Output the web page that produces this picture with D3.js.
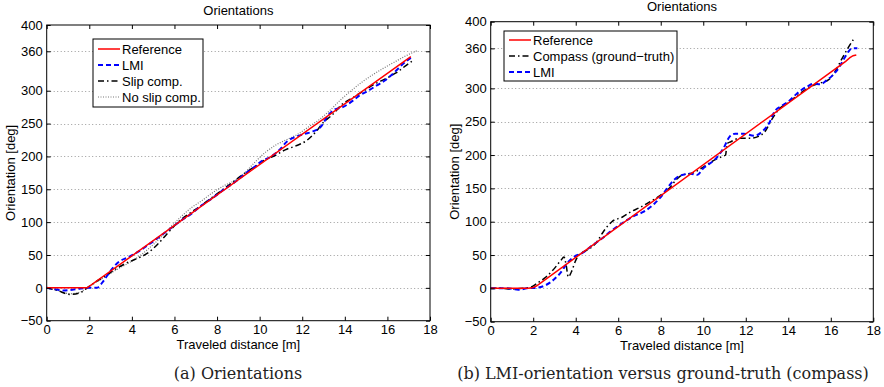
<!DOCTYPE html>
<html><head><meta charset="utf-8">
<script src="https://cdn.jsdelivr.net/npm/d3@7"></script>
<style>body{margin:0;background:#fff}svg{display:block}</style>
</head><body>
<svg id="c" width="884" height="387"></svg>
<script>
// ---------- data ----------
const xTicks = [0,2,4,6,8,10,12,14,16,18];
const yTicks = [-50,0,50,100,150,200,250,300,360,400];

// Panel (a)
const aRefX = [0,1.9,17.1];
const aRefY = [0,0,352];
const aLmiX = [0,0.4,0.8,1.2,1.6,2.0,2.35,2.7,3.0,3.4,3.8,4.3,4.8,5.3,5.8,6.3,6.8,7.3,7.8,8.3,8.8,9.3,9.8,10.1,10.5,10.9,11.3,11.7,12.1,12.5,12.9,13.2,13.5,13.9,14.3,14.7,15.1,15.5,15.9,16.3,16.7,17.1];
const aLmiY = [0,-2,-4,-3,-1,0,0,12,26,40,46,55,66,78,90,102,113,126,137,149,160,173,185,193,199,209,223,230,234,238,246,262,271,275,283,293,300,308,316,327,340,350];
const aSlipX = [0,0.5,1.1,1.6,1.9,2.3,2.8,3.3,3.7,4.2,4.7,5.2,5.7,6.2,6.7,7.2,7.7,8.2,8.7,9.2,9.7,10.2,10.7,11.2,11.7,12.2,12.6,13.0,13.4,13.9,14.4,14.9,15.4,15.9,16.4,16.9,17.2];
const aSlipY = [0,-4,-10,-7,0,9,19,30,37,44,52,66,84,101,113,124,136,148,160,172,183,194,201,210,216,224,236,252,263,280,290,300,310,318,327,339,346];
const aNoSlipX = [0,0.5,1.1,1.6,1.9,2.3,2.8,3.3,3.8,4.3,4.8,5.3,5.8,6.3,6.8,7.3,7.8,8.3,8.8,9.3,9.8,10.3,10.8,11.3,11.8,12.3,12.8,13.3,13.8,14.3,14.8,15.3,15.8,16.3,16.8,17.4];
const aNoSlipY = [0,-4,-9,-6,0,8,18,28,37,47,60,75,92,108,122,133,145,155,163,175,192,207,218,226,234,245,256,270,286,300,313,324,334,343,352,361];

// Panel (b)
const bRefX = [0,1.75,1.95,2.15,16.7,16.9,17.05,17.2];
const bRefY = [0,0,0.8,3.5,340.6,346,349,350];
const bCompassX = [0,0.5,1.0,1.5,1.9,2.2,2.6,3.0,3.3,3.45,3.55,3.65,3.8,4.0,4.2,4.4,5.0,5.3,5.7,6.2,6.6,7.0,7.5,8.0,8.4,8.7,9.0,9.5,10.0,10.5,10.9,11.05,11.12,11.3,11.7,12.2,12.6,12.9,13.2,13.6,14.0,14.5,15.0,15.5,15.9,16.2,16.5,16.8,17.1];
const bCompassY = [0,0,-1,0,2,8,17,30,42,47,35,17,25,42,52,55,70,85,100,107,115,121,130,140,150,162,170,173,182,192,198,200,217,220,225,225,228,235,252,270,279,291,302,308,313,325,343,360,375];
const bLmiX = [0,0.8,1.3,1.7,2.2,2.6,3.0,3.3,3.6,3.9,4.3,4.8,5.2,5.7,6.2,6.7,7.2,7.7,8.0,8.3,8.6,9.0,9.4,9.7,10.0,10.6,10.95,11.25,11.5,11.9,12.4,12.8,13.1,13.35,13.7,14.0,14.4,14.9,15.2,15.5,15.8,16.1,16.4,16.65,16.85,17.0,17.25];
const bLmiY = [0,0,-2,0,1,5,14,24,38,47,53,65,74,87,98,108,115,127,137,150,162,170,172,170,180,195,210,228,232,232,229,236,248,265,274,280,292,303,307,306,312,320,332,346,356,360,360];

// ---------- drawing ----------
const svg = d3.select("#c");
const FONT = "'Liberation Sans', Arial, Helvetica, sans-serif";

function panel(cfg){
  const x = d3.scaleLinear().domain([0,18]).range([cfg.x0, cfg.x1]);
  const y = d3.scaleLinear().domain([-50,400]).range([cfg.y0, cfg.y1]);
  const g = svg.append("g");

  // grid
  g.selectAll(".grid").data(yTicks.filter(v=>v>-50&&v<400)).enter().append("line")
    .attr("x1", cfg.x0).attr("x2", cfg.x1)
    .attr("y1", d=>Math.round(y(d))+0.5).attr("y2", d=>Math.round(y(d))+0.5)
    .attr("stroke","#9a9a9a").attr("stroke-width",1).attr("stroke-dasharray","1,2.5");

  const line = d3.line().x(d=>x(d[0])).y(d=>y(d[1]));
  const smooth = d3.line().x(d=>x(d[0])).y(d=>y(d[1])).curve(d3.curveMonotoneX);
  cfg.series.forEach(s=>{
    const pts = s.xs.map((v,i)=>[v, s.ys[i]]);
    g.append("path").attr("d", (s.smooth?smooth:line)(pts))
      .attr("fill","none").attr("stroke", s.color).attr("stroke-width", s.width)
      .attr("stroke-dasharray", s.dash || null);
  });

  // axes
  const ax = g.append("g");
  const bottom = d3.axisBottom(x).tickValues(xTicks).tickSizeInner(-4).tickSizeOuter(0).tickPadding(4);
  const top = d3.axisTop(x).tickValues(xTicks).tickSizeInner(-4).tickSizeOuter(0).tickFormat("");
  const left = d3.axisLeft(y).tickValues(yTicks).tickSizeInner(-4).tickSizeOuter(0).tickPadding(4)
     .tickFormat(d=> d<0 ? "\u2212"+Math.abs(d) : d);
  const right = d3.axisRight(y).tickValues(yTicks).tickSizeInner(-4).tickSizeOuter(0).tickFormat("");
  [[bottom,`translate(0,${cfg.y0})`],[top,`translate(0,${cfg.y1})`],[left,`translate(${cfg.x0},0)`],[right,`translate(${cfg.x1},0)`]]
   .forEach(([a,t])=>{
     const gg = ax.append("g").attr("transform",t).call(a);
     gg.select(".domain").remove();
     gg.selectAll("text").attr("font-family",FONT).attr("font-size",13).attr("fill","#000");
     gg.selectAll("line").attr("stroke","#000");
   });
  g.append("rect").attr("x",cfg.x0).attr("y",cfg.y1).attr("width",cfg.x1-cfg.x0).attr("height",cfg.y0-cfg.y1)
    .attr("fill","none").attr("stroke","#000").attr("stroke-width",1);

  // titles/labels
  g.append("text").attr("x",(cfg.x0+cfg.x1)/2).attr("y",cfg.titleY).attr("text-anchor","middle")
    .attr("font-family",FONT).attr("font-size",13).text("Orientations");
  g.append("text").attr("x",(cfg.x0+cfg.x1)/2).attr("y",cfg.xlabY).attr("text-anchor","middle")
    .attr("font-family",FONT).attr("font-size",13).text("Traveled distance [m]");
  g.append("text").attr("transform",`translate(${cfg.ylabX},${(cfg.y0+cfg.y1)/2}) rotate(-90)`)
    .attr("text-anchor","middle").attr("font-family",FONT).attr("font-size",13).text("Orientation [deg]");
  g.append("text").attr("x",cfg.capX).attr("y",379).attr("text-anchor","middle")
    .attr("font-family","'DejaVu Serif', 'Liberation Serif', serif").attr("font-size",cfg.capSize).attr("fill","#222").text(cfg.caption);

  // legend
  const L = cfg.legend;
  g.append("rect").attr("x",L.x).attr("y",L.y).attr("width",L.w).attr("height",L.h)
    .attr("fill","#fff").attr("stroke","#000").attr("stroke-width",1);
  L.items.forEach((s,i)=>{
    const yy = L.y + L.first + i*L.step;
    g.append("line").attr("x1",L.x+5).attr("x2",L.x+27).attr("y1",yy).attr("y2",yy)
      .attr("stroke",s.color).attr("stroke-width",s.width).attr("stroke-dasharray",s.dash||null);
    g.append("text").attr("x",L.x+29).attr("y",yy+4.5).attr("font-family",FONT).attr("font-size",13).text(s.name);
  });
}

const sRefA = {name:"Reference", xs:aRefX, ys:aRefY, color:"#ff0000", width:1.5};
const sLmiA = {name:"LMI", xs:aLmiX, ys:aLmiY, color:"#0000ff", width:2, dash:"5,3", smooth:true};
const sSlipA = {name:"Slip comp.", xs:aSlipX, ys:aSlipY, color:"#000", width:1.5, dash:"6,3,1.5,3", smooth:true};
const sNoSlipA = {name:"No slip comp.", xs:aNoSlipX, ys:aNoSlipY, color:"#777", width:1.2, dash:"1,1.5", smooth:true};

panel({x0:46.7, x1:430, y0:320.7, y1:25, titleY:15, xlabY:349, ylabX:15, capX:238, capSize:16,
  caption:"(a) Orientations",
  series:[sNoSlipA, sSlipA, sLmiA, sRefA],
  legend:{x:93, y:39, w:110, h:68, first:10, step:16, items:[sRefA,sLmiA,sSlipA,sNoSlipA]}});

const sRefB = {name:"Reference", xs:bRefX, ys:bRefY, color:"#ff0000", width:1.5};
const sCompB = {name:"Compass (ground\u2212truth)", xs:bCompassX, ys:bCompassY, color:"#000", width:1.5, dash:"6,3,1.5,3", smooth:true};
const sLmiB = {name:"LMI", xs:bLmiX, ys:bLmiY, color:"#0000ff", width:2, dash:"5,3", smooth:true};

panel({x0:490.7, x1:873.3, y0:321.7, y1:21.7, titleY:11, xlabY:350, ylabX:459, capX:663, capSize:16,
  caption:"(b) LMI-orientation versus ground-truth (compass)",
  series:[sCompB, sLmiB, sRefB],
  legend:{x:504, y:31, w:173, h:50, first:9, step:16, items:[sRefB,sCompB,sLmiB]}});
</script>
</body></html>
